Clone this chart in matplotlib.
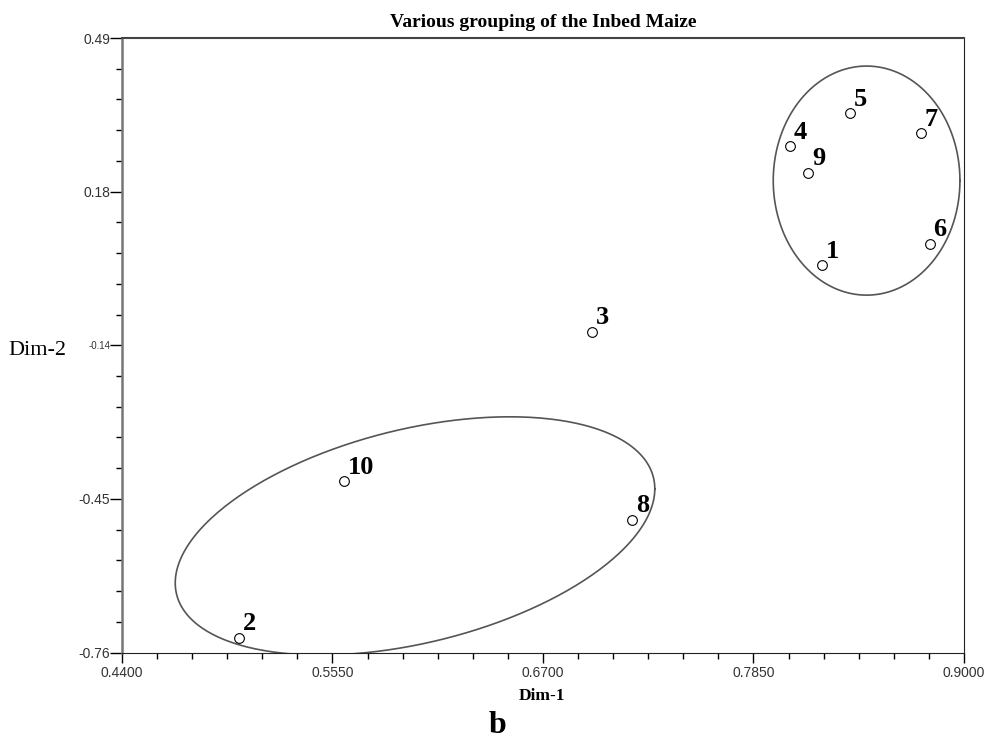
import matplotlib
matplotlib.use("Agg")
import matplotlib.pyplot as plt
from matplotlib.ticker import AutoMinorLocator
import numpy as np

# inbred lines
labels = ["1", "2", "3", "4", "5", "6", "7", "8", "9", "10"]
dim1 = [0.8224, 0.5041, 0.6969, 0.8050, 0.8377, 0.8814, 0.8763, 0.7188, 0.8150, 0.5615]
dim2 = [0.028, -0.730, -0.108, 0.270, 0.337, 0.072, 0.296, -0.490, 0.216, -0.412]

xticks = [0.44, 0.555, 0.67, 0.785, 0.90]
xticklabels = ["0.4400", "0.5550", "0.6700", "0.7850", "0.9000"]
yticks = [-0.76, -0.4475, -0.135, 0.1775, 0.49]
yticklabels = ["-0.76", "-0.45", "-0.14", "0.18", "0.49"]

# group ellipses: centre x, centre y, half width, half height, phase
groups = [
    (0.8468, 0.200, 0.0510, 0.233, np.pi / 2),
    (0.6001, -0.5228, 0.1310, 0.2423, np.arccos(0.395)),
]

serif = "Liberation Serif"

fig = plt.figure(figsize=(9.9, 7.4), dpi=100)
ax = fig.add_axes([0.1232, 0.1182, 0.8505, 0.8304])

for cx, cy, wx, hy, ph in groups:
    t = np.linspace(0, 2 * np.pi, 400)
    ax.plot(cx + wx * np.cos(t), cy + hy * np.cos(t - ph), color="#555555", lw=1.2)

ax.plot(dim1, dim2, "o", ms=7, mfc="white", mec="black", mew=0.8, ls="none")
for x, y, s in zip(dim1, dim2, labels):
    ax.annotate(s, (x, y), xytext=(2.5, 5.5), textcoords="offset points",
                fontsize=19, fontweight="bold", family=serif, ha="left", va="baseline")

ax.set_xlim(0.44, 0.90)
ax.set_ylim(-0.76, 0.49)
ax.set_xticks(xticks)
ax.set_xticklabels(xticklabels, family="Liberation Sans", fontsize=10, color="#333333")
ax.set_yticks(yticks)
ax.set_yticklabels(yticklabels, family="Liberation Sans", fontsize=10, color="#333333")
ax.get_yticklabels()[2].set_fontsize(7)
ax.xaxis.set_minor_locator(AutoMinorLocator(6))
ax.yaxis.set_minor_locator(AutoMinorLocator(5))
ax.tick_params(axis="x", which="major", length=7, width=1, pad=3)
ax.tick_params(axis="x", which="minor", length=4, width=1)
ax.tick_params(axis="y", which="major", length=8.5, width=1, pad=0)
ax.tick_params(axis="y", which="minor", length=4.3, width=1)

ax.spines["left"].set_color("#777777")
ax.spines["left"].set_linewidth(1.8)
ax.spines["top"].set_color("#444444")
ax.spines["top"].set_linewidth(1.5)
ax.spines["right"].set_color("#222222")
ax.spines["bottom"].set_color("#222222")

ax.set_title("Various grouping of the Inbed Maize", family=serif, fontweight="bold",
             fontsize=14, pad=8)
fig.text(0.0081, 0.527, "Dim-2", family=serif, fontsize=16, ha="left", va="center")
fig.text(0.547, 0.06, "Dim-1", family=serif, fontsize=12.5, fontweight="semibold",
         ha="center", va="center")
fig.text(0.503, 0.02, "b", family=serif, fontsize=23, fontweight="bold", ha="center", va="center")

fig.savefig("out.png", dpi=100)
